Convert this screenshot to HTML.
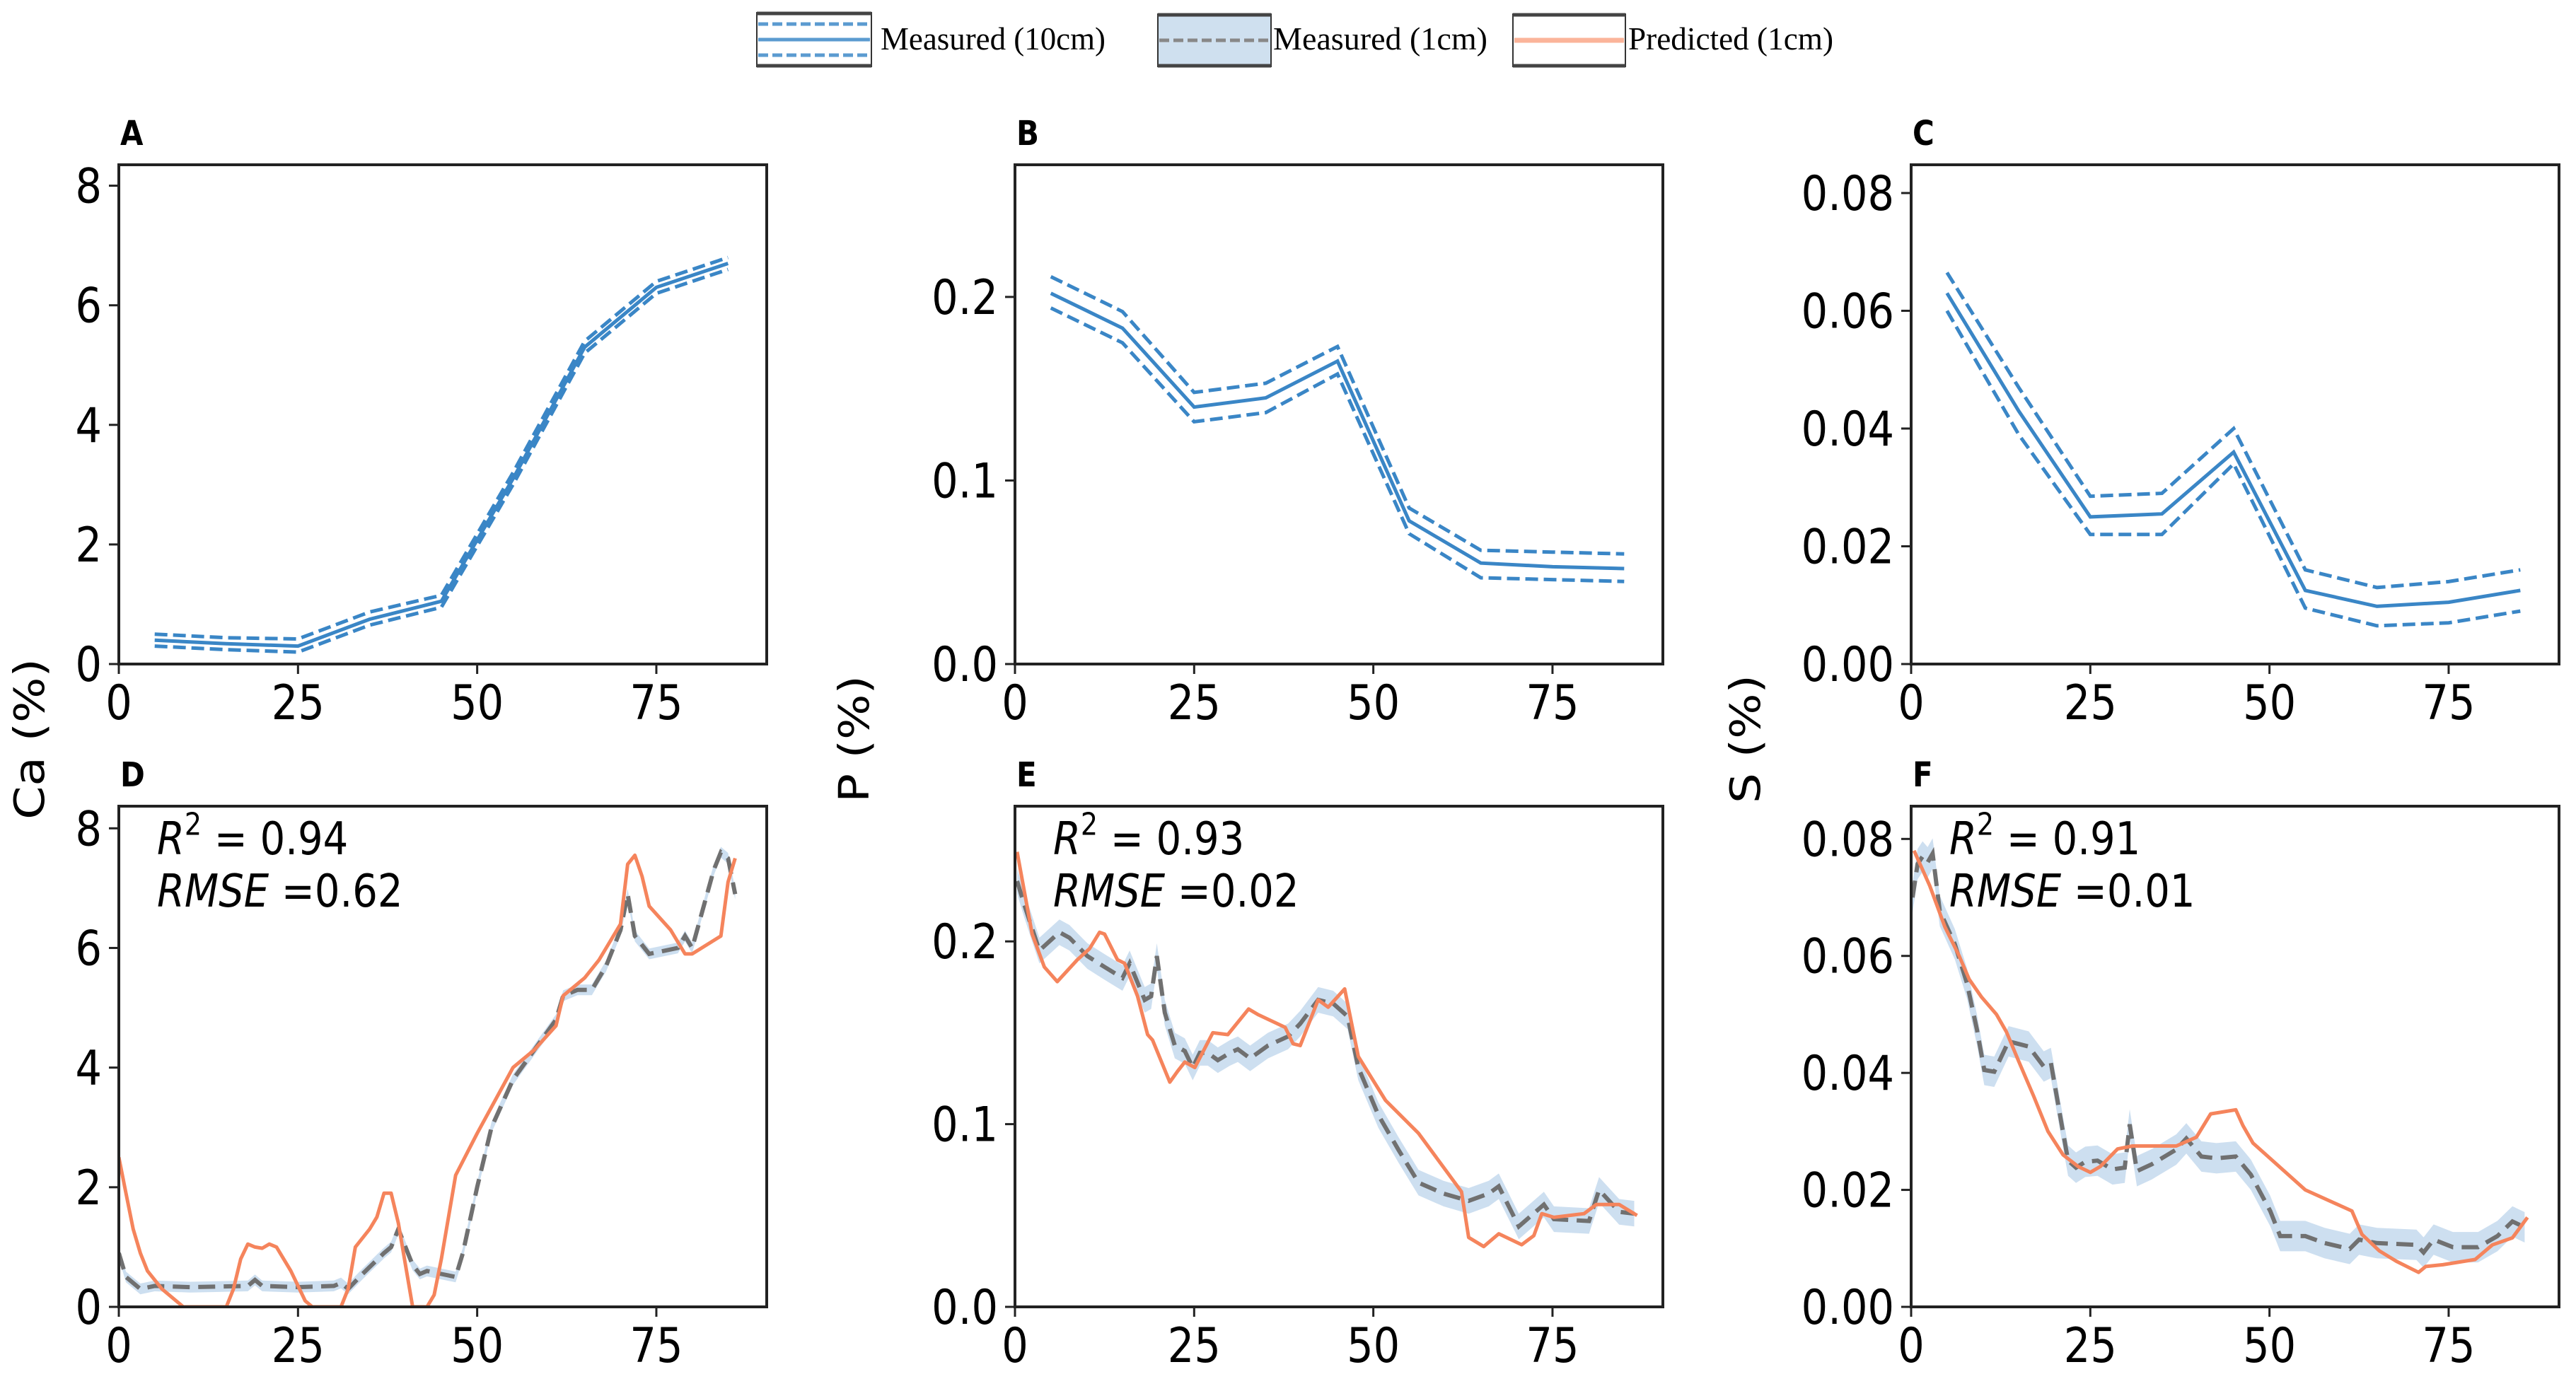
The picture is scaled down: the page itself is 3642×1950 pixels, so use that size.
<!DOCTYPE html>
<html><head><meta charset="utf-8"><style>
html,body{margin:0;padding:0;background:#fff}
svg{display:block}
text{font-family:"DejaVu Sans","Liberation Sans",sans-serif;fill:#000}
</style></head><body>
<svg id="fig" width="3642" height="1950" viewBox="0 0 3642 1950" xmlns="http://www.w3.org/2000/svg">
<g id="legend">
  <g>
    <rect x="1070" y="18" width="162" height="76" fill="#fff" stroke="#333" stroke-width="2"/>
    <line x1="1070" y1="19" x2="1232" y2="19" stroke="#444" stroke-width="5"/>
    <line x1="1070" y1="93" x2="1232" y2="93" stroke="#444" stroke-width="5"/>
    <line x1="1072" y1="34" x2="1230" y2="34" stroke="#5b9bd0" stroke-width="5" stroke-dasharray="14,6"/>
    <line x1="1072" y1="56" x2="1230" y2="56" stroke="#5b9bd0" stroke-width="5"/>
    <line x1="1072" y1="78" x2="1230" y2="78" stroke="#5b9bd0" stroke-width="5" stroke-dasharray="14,6"/>
    <text x="1245" y="70" style="font-family:'Liberation Serif',serif;font-size:46px" textLength="318" lengthAdjust="spacingAndGlyphs">Measured (10cm)</text>
  </g>
  <g>
    <rect x="1637" y="20" width="160" height="74" fill="#cfe0ef" stroke="#333" stroke-width="2"/>
    <line x1="1637" y1="21" x2="1797" y2="21" stroke="#444" stroke-width="5"/>
    <line x1="1637" y1="93" x2="1797" y2="93" stroke="#444" stroke-width="5"/>
    <line x1="1639" y1="57" x2="1795" y2="57" stroke="#888" stroke-width="5" stroke-dasharray="14,6"/>
    <text x="1800" y="70" style="font-family:'Liberation Serif',serif;font-size:46px" textLength="303" lengthAdjust="spacingAndGlyphs">Measured (1cm)</text>
  </g>
  <g>
    <rect x="2139" y="20" width="159" height="74" fill="#fff" stroke="#333" stroke-width="2"/>
    <line x1="2139" y1="21" x2="2298" y2="21" stroke="#444" stroke-width="5"/>
    <line x1="2139" y1="93" x2="2298" y2="93" stroke="#444" stroke-width="5"/>
    <line x1="2141" y1="57" x2="2296" y2="57" stroke="#fbb49a" stroke-width="7"/>
    <text x="2302" y="70" style="font-family:'Liberation Serif',serif;font-size:46px" textLength="290" lengthAdjust="spacingAndGlyphs">Predicted (1cm)</text>
  </g>
</g>
<text transform="translate(62,1045) rotate(-90) scale(1.15,1)" text-anchor="middle" font-size="59">Ca (%)</text>
<text transform="translate(1228,1045) rotate(-90) scale(1.15,1)" text-anchor="middle" font-size="59">P (%)</text>
<text transform="translate(2488,1045) rotate(-90) scale(1.15,1)" text-anchor="middle" font-size="59">S (%)</text>
</svg>
<script>
// ---- 10 cm measured data (panels A-C) ----
const depth10 = [5,15,25,35,45,55,65,75,85];
const caMid10 = [0.40,0.34,0.30,0.75,1.05,3.10,5.30,6.30,6.70];
const caUp10  = [0.50,0.44,0.42,0.87,1.15,3.20,5.40,6.40,6.80];
const caLo10  = [0.30,0.24,0.20,0.65,0.95,3.00,5.20,6.20,6.60];
const pMid10 = [0.202,0.183,0.140,0.145,0.165,0.078,0.055,0.053,0.052];
const pUp10  = [0.211,0.192,0.148,0.153,0.173,0.085,0.062,0.061,0.060];
const pLo10  = [0.194,0.175,0.132,0.137,0.158,0.071,0.047,0.046,0.045];
const sMid10 = [0.063,0.043,0.025,0.0255,0.036,0.0125,0.0098,0.0105,0.0125];
const sUp10  = [0.0665,0.047,0.0285,0.029,0.040,0.016,0.013,0.014,0.016];
const sLo10  = [0.060,0.039,0.022,0.022,0.034,0.0095,0.0065,0.007,0.009];
// ---- 1 cm data (panels D-F) ----
const caMeasX = [0,1,3,5,10,18,19,20,25,30,31,32,34,37,38,39,40,41,42,43,45,47,48,50,52,55,58,61,62,64,66,68,70,71,72,74,78,79,80,83,84,85,86];
const caMeasY = [0.9,0.5,0.3,0.35,0.33,0.35,0.45,0.35,0.33,0.35,0.4,0.3,0.55,0.9,1.0,1.3,1.0,0.7,0.55,0.6,0.55,0.5,0.9,2.0,3.0,3.8,4.3,4.8,5.2,5.3,5.3,5.7,6.3,6.9,6.2,5.9,6.0,6.2,6.0,7.3,7.6,7.5,6.9];
const caPredX = [0,1,2,3,4,6,9,15,16,17,18,19,20,21,22,24,26,27,31,32,33,35,36,37,38,39,40,41,43,44,45,47,50,55,58,61,62,65,67,70,71,72,73,74,77,79,80,84,85,86];
const caPredY = [2.5,1.9,1.3,0.9,0.6,0.3,0,0,0.3,0.8,1.05,1.0,0.98,1.05,1.0,0.6,0.1,0,0,0.3,1.0,1.3,1.5,1.9,1.9,1.4,0.7,0,0,0.2,0.8,2.2,2.9,4.0,4.3,4.7,5.2,5.5,5.8,6.4,7.4,7.55,7.2,6.7,6.3,5.9,5.9,6.2,7.1,7.5];
const caBand = 0.09;
const pMeasX = [0.3,1.3,3.4,6.2,7.6,10.1,12.5,15,16,18.1,19,19.8,20.9,22.3,23.7,24.8,25.8,26.9,28.3,30,31.1,32.8,35.3,38.1,39.8,42.3,44.4,46.4,47.9,50.7,53.5,56.3,59.8,63.3,66.1,67.5,70.3,73.8,75.2,80.1,81.5,84.3,86.4];
const pMeasY = [0.233,0.22,0.195,0.205,0.202,0.192,0.186,0.18,0.188,0.168,0.17,0.192,0.161,0.143,0.14,0.131,0.139,0.139,0.135,0.139,0.141,0.136,0.143,0.148,0.155,0.168,0.166,0.159,0.131,0.105,0.086,0.068,0.062,0.058,0.062,0.066,0.044,0.056,0.048,0.047,0.064,0.052,0.051];
const pPredX = [0.3,2.4,4.1,5.9,8.7,10.4,11.8,12.5,14.3,15.3,17.1,18.5,19.2,21.6,22.7,23.7,25.1,27.6,29.7,32.6,33.9,37.7,38.8,39.8,42.3,43.7,46,47.9,51.7,56.3,62.3,63.3,65.4,67.5,70.7,72.4,73.5,75.2,79.4,81.1,84.3,86.8];
const pPredY = [0.249,0.204,0.186,0.178,0.19,0.196,0.205,0.204,0.19,0.188,0.17,0.149,0.146,0.123,0.129,0.134,0.131,0.15,0.149,0.163,0.16,0.153,0.144,0.143,0.168,0.164,0.174,0.137,0.113,0.095,0.063,0.038,0.033,0.04,0.034,0.039,0.051,0.049,0.051,0.056,0.056,0.05];
const pBand = 0.007;
const sMeasX = [0.2,0.9,1.6,2.3,3,4,6.1,7.8,9.2,10.2,11.6,13.6,16.4,18.5,19.5,20.9,21.9,23,24.3,26,28.1,29.8,30.5,31.5,33.6,37,38.4,40.5,42.6,45.3,47.4,50.1,51.5,55,57.7,61.2,62.5,65,70.5,71.5,72.9,75.6,79.1,81.8,83.9,85.6];
const sMeasY = [0.070,0.0757,0.077,0.076,0.0775,0.0677,0.062,0.0553,0.0473,0.0405,0.0402,0.0454,0.0445,0.0411,0.0417,0.0319,0.025,0.0238,0.0248,0.025,0.0235,0.0238,0.0312,0.0232,0.0244,0.0269,0.0288,0.0257,0.0254,0.0257,0.0226,0.0164,0.0121,0.0121,0.0109,0.0099,0.0115,0.0109,0.0106,0.0093,0.0115,0.0102,0.0102,0.0121,0.0146,0.0136];
const sPredX = [0.4,2.6,4.7,6.7,8.1,9.8,11.9,13.3,15,17.1,19.1,21.2,23.3,25,26.4,28.8,30.9,37,39.8,41.8,45.3,46.3,47.7,55,61.5,62.9,65.3,67.7,70.8,71.8,74.2,78.7,81.1,83.9,86];
const sPredY = [0.078,0.072,0.065,0.060,0.056,0.053,0.050,0.047,0.042,0.036,0.030,0.026,0.024,0.023,0.024,0.027,0.0275,0.0275,0.029,0.033,0.0337,0.031,0.028,0.020,0.0164,0.0124,0.0096,0.0078,0.0059,0.0069,0.0072,0.0081,0.0106,0.0118,0.0153];
const sBand = 0.0026;
const xTicks = [0,25,50,75];
const caTicks = [0,2,4,6,8];
const caTickLabels = ["0","2","4","6","8"];
const pTicks = [0,0.1,0.2];
const pTickLabels = ["0.0","0.1","0.2"];
const sTicks = [0,0.02,0.04,0.06,0.08];
const sTickLabels = ["0.00","0.02","0.04","0.06","0.08"];

const NS = "http://www.w3.org/2000/svg";
const svg = document.getElementById('fig');
const BLUE = "#3a86c6", GRAY = "#707070", ORANGE = "#f5845c", BANDC = "#c8dcee";
const VS = 1.15;
function mk(tag, attrs, parent){
  const e = document.createElementNS(NS, tag);
  for (const k in attrs) e.setAttribute(k, attrs[k]);
  (parent||svg).appendChild(e);
  return e;
}
function txt(x, y, attrs, parent){
  attrs.transform = 'translate(' + x + ',' + y + ') scale(1,' + VS + ')';
  attrs.x = 0; attrs.y = 0;
  return mk('text', attrs, parent);
}
function path(xs, ys, sx, sy){
  return xs.map((x,i)=>(i?'L':'M')+sx(x).toFixed(1)+','+sy(ys[i]).toFixed(1)).join(' ');
}
function panel(cfg){
  const g = mk('g', {});
  
  
  const L = cfg.left, T = cfg.top, W = 916, H = cfg.bottom - cfg.top;
  const sx = v => L + v / 90.4 * W;
  const sy = v => cfg.bottom - v / cfg.ymax * H;
  const clip = 'clip' + cfg.letter;
  const cp = mk('clipPath', {id: clip}, g);
  mk('rect', {x: L, y: T, width: W, height: H}, cp);
  const plot = mk('g', {'clip-path': 'url(#' + clip + ')'}, g);
  if (cfg.mid) {
    const up = mk('path', {d: path(depth10, cfg.up, sx, sy), fill: 'none', stroke: BLUE, 'stroke-width': 5, 'stroke-dasharray': '18,8'}, plot);
    
    
    const lo = mk('path', {d: path(depth10, cfg.lo, sx, sy), fill: 'none', stroke: BLUE, 'stroke-width': 5, 'stroke-dasharray': '18,8'}, plot);
    
    
    const md = mk('path', {d: path(depth10, cfg.mid, sx, sy), fill: 'none', stroke: BLUE, 'stroke-width': 5}, plot);
    
    
  } else {
    const upY = cfg.my.map(v => v + cfg.band), loY = cfg.my.map(v => Math.max(0, v - cfg.band));
    const d = path(cfg.mx, upY, sx, sy) + ' ' + path(cfg.mx.slice().reverse(), loY.slice().reverse(), sx, sy).replace(/^M/, 'L') + ' Z';
    const b = mk('path', {d: d, fill: BANDC, stroke: 'none', opacity: 0.9}, plot);
    
    
    const ml = mk('path', {d: path(cfg.mx, cfg.my, sx, sy), fill: 'none', stroke: GRAY, 'stroke-width': 6, 'stroke-dasharray': '24,12'}, plot);
    
    
    const pl = mk('path', {d: path(cfg.px, cfg.py, sx, sy), fill: 'none', stroke: ORANGE, 'stroke-width': 5, 'stroke-linejoin': 'round'}, plot);
    
    
    const t1 = txt(L + 54, T + 68, {'font-size': 56}, g);
    
    
    t1.innerHTML = '<tspan font-style="italic">R</tspan><tspan font-size="38" dy="-24">2</tspan><tspan dy="24"> = ' + cfg.r2 + '</tspan>';
    const t2 = txt(L + 54, T + 142, {'font-size': 56}, g);
    
    
    t2.innerHTML = '<tspan font-style="italic">RMSE</tspan> =' + cfg.rmse;
  }
  const fr = mk('rect', {x: L, y: T, width: W, height: H, fill: 'none', stroke: '#222', 'stroke-width': 4}, g);
  
  
  xTicks.forEach(v => {
    mk('line', {x1: sx(v), x2: sx(v), y1: cfg.bottom, y2: cfg.bottom + 14, stroke: '#222', 'stroke-width': 3}, g);
    const t = txt(sx(v), cfg.bottom + 78, {'text-anchor': 'middle', 'font-size': 59}, g);
    
    
    t.textContent = String(v);
  });
  cfg.ticks.forEach((v, i) => {
    mk('line', {x1: L - 14, x2: L, y1: sy(v), y2: sy(v), stroke: '#222', 'stroke-width': 3}, g);
    const t = txt(L - 24, sy(v) + 24, {'text-anchor': 'end', 'font-size': 59}, g);
    
    
    t.textContent = cfg.labels[i];
  });
  const lt = txt(L + 2, cfg.top - 28, {'font-size': 42, 'font-weight': 'bold'}, g);
  
  
  lt.textContent = cfg.letter;
}
const rowTop = [233, 1140], rowBot = [939, 1848];
const colLeft = [168, 1435, 2702];
panel({letter:'A', left:colLeft[0], top:rowTop[0], bottom:rowBot[0], ymax:8.35, ticks:caTicks, labels:caTickLabels, mid:caMid10, up:caUp10, lo:caLo10});
panel({letter:'B', left:colLeft[1], top:rowTop[0], bottom:rowBot[0], ymax:0.272, ticks:pTicks, labels:pTickLabels, mid:pMid10, up:pUp10, lo:pLo10});
panel({letter:'C', left:colLeft[2], top:rowTop[0], bottom:rowBot[0], ymax:0.0848, ticks:sTicks, labels:sTickLabels, mid:sMid10, up:sUp10, lo:sLo10});
panel({letter:'D', left:colLeft[0], top:rowTop[1], bottom:rowBot[1], ymax:8.37, ticks:caTicks, labels:caTickLabels, mx:caMeasX, my:caMeasY, px:caPredX, py:caPredY, band:caBand, r2:'0.94', rmse:'0.62'});
panel({letter:'E', left:colLeft[1], top:rowTop[1], bottom:rowBot[1], ymax:0.274, ticks:pTicks, labels:pTickLabels, mx:pMeasX, my:pMeasY, px:pPredX, py:pPredY, band:pBand, r2:'0.93', rmse:'0.02'});
panel({letter:'F', left:colLeft[2], top:rowTop[1], bottom:rowBot[1], ymax:0.0856, ticks:sTicks, labels:sTickLabels, mx:sMeasX, my:sMeasY, px:sPredX, py:sPredY, band:sBand, r2:'0.91', rmse:'0.01'});
</script>
</body></html>
